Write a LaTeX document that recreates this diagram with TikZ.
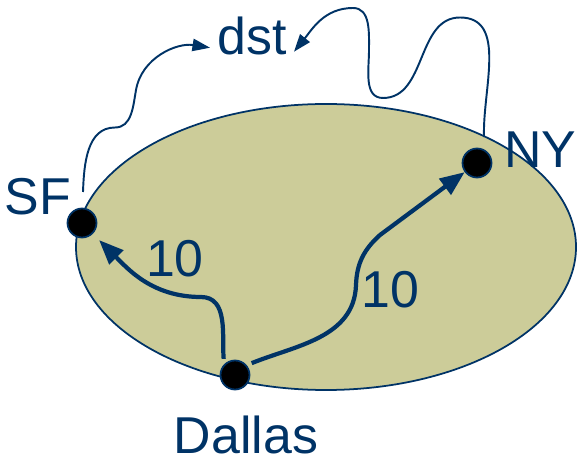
\documentclass[tikz,border=0pt]{standalone}
\usepackage{fontspec}
\setmainfont{Liberation Sans}
\usetikzlibrary{arrows.meta}
\definecolor{navy}{RGB}{0,51,102}
\definecolor{khaki}{RGB}{204,204,153}

\begin{document}
\begin{tikzpicture}[scale=1.0,
		lbl/.style={font=\fontsize{29.5}{34}\selectfont, text=navy, inner sep=4pt, anchor=base},
		dot/.style={circle, fill=black, draw=navy, line width=1pt, minimum size=0.58cm, inner sep=0pt},
		heavy/.style={navy, line width=2.4pt, -{Triangle[length=14pt,width=11pt]}},
		light/.style={navy, line width=1.1pt, -{Triangle[length=10pt,width=7pt]}}]
			\useasboundingbox (0,0) rectangle (11.56,9.3);
			\draw[navy, line width=1pt, fill=khaki] (6.52,4.36) ellipse (5.0 and 2.86);
			\node[dot] (sf) at (1.64,4.84) {};
			\node[dot] (ny) at (9.54,6.04) {};
			\node[dot] (dal) at (4.70,1.80) {};
			\node[lbl] (sfl) at (0.76,5.0) {SF};
			\node[lbl] (nyl) at (10.8,5.94) {NY};
			\node[lbl, inner sep=1pt] (dall) at (4.92,0.24) {Dallas};
			\node[lbl] (dst) at (5.04,8.2) {dst};
			\node[lbl] (w1) at (3.5,3.76) {10};
			\node[lbl] (w2) at (7.8,3.14) {10};
			\coordinate (sfout) at (1.66,5.46);
			\coordinate (nyout) at (9.68,6.56);
			\draw[heavy, shorten <=3pt, shorten >=5pt] (dal.135) to[out=95,in=0] (4.02,3.36) to[out=180,in=-45] (sf.-45);
			\draw[heavy, shorten <=3pt] (dal.40) to[out=22,in=-92] (7.12,3.6) to[out=88,in=-138] (7.6,4.6) -- (ny);
			\draw[light] (sfout) to[out=88,in=180] (2.3,6.75) to[out=0,in=-100] (2.72,7.5) to[out=80,in=171] (dst.195);
			\draw[light] (nyout) to[out=92,in=0] (9.2,8.95) to[out=180,in=0] (7.66,7.34) to[out=180,in=-90] (7.38,8.3) to[out=90,in=0] (7.06,9.14) to[out=180,in=51] (dst.-20);
		\end{tikzpicture}
\end{document}
